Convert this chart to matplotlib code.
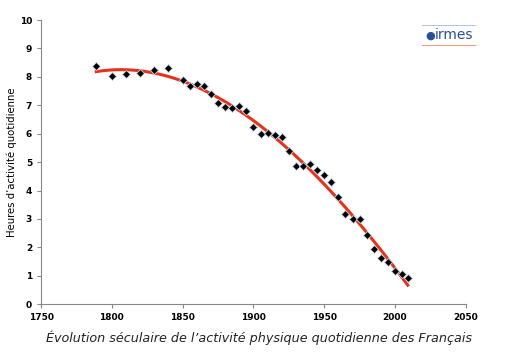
import numpy as np
import matplotlib
matplotlib.use("Agg")
from matplotlib import pyplot as plt

# données
annees = [1789, 1800, 1810, 1820, 1830, 1840,
          1850, 1855, 1860, 1865, 1870, 1875, 1880, 1885, 1890, 1895,
          1900, 1905, 1910, 1915, 1920, 1925, 1930, 1935, 1940, 1945,
          1950, 1955, 1960, 1965, 1970, 1975, 1980, 1985, 1990, 1995,
          2000, 2005, 2009]
heures = [8.38, 8.03, 8.09, 8.13, 8.25, 8.31,
          7.88, 7.69, 7.74, 7.68, 7.38, 7.07, 6.95, 6.90, 6.98, 6.81,
          6.23, 5.98, 6.01, 5.94, 5.87, 5.40, 4.87, 4.88, 4.95, 4.72,
          4.54, 4.29, 3.76, 3.16, 2.99, 2.99, 2.45, 1.95, 1.63, 1.49,
          1.17, 1.06, 0.93]
xticks = [1750, 1800, 1850, 1900, 1950, 2000, 2050]
yticks = list(range(0, 11))

x = np.array(annees, dtype=float)
y = np.array(heures)

# courbe de tendance polynomiale (comme dans excel)
coef = np.polyfit((x - 1900) / 100, y, 3)
xt = np.linspace(x.min(), x.max(), 200)
yt = np.polyval(coef, (xt - 1900) / 100)

fig = plt.figure(figsize=(5.13, 3.52), dpi=100)
ax = fig.add_axes([0.080, 0.136, 0.828, 0.807])

ax.plot(xt, yt, color="#e5321b", lw=2.2, zorder=2)
ax.plot(x, y, "D", color="black", ms=4.2, mec="#c8d8e8", mew=0.6, zorder=3)

ax.set_xlim(1750, 2050)
ax.set_ylim(0, 10)
ax.set_xticks(xticks)
ax.set_yticks(yticks)
for lab in ax.get_xticklabels() + ax.get_yticklabels():
    lab.set_fontweight("bold")
ax.tick_params(labelsize=6.5, colors="#888888", labelcolor="black", length=3, width=0.8)
for s in ["top", "right"]:
    ax.spines[s].set_visible(False)
for s in ["left", "bottom"]:
    ax.spines[s].set_color("#888888")
    ax.spines[s].set_linewidth(0.8)

ax.set_ylabel("Heures d\u2019activité quotidienne", fontsize=7.3, labelpad=2)

fig.text(0.505, 0.040, "Évolution séculaire de l\u2019activité physique quotidienne des Français",
         ha="center", va="center", fontsize=9.2, style="italic", color="#222222")

# petit logo
fig.text(0.838, 0.900, "\u25cf", color="#2a4f9a", fontsize=8, ha="center", va="center")
fig.text(0.848, 0.900, "irmes", color="#2a4f9a", fontsize=10, ha="left", va="center")
fig.add_artist(plt.Line2D([0.822, 0.925], [0.873, 0.873], color="#e8a080", lw=0.8))
fig.add_artist(plt.Line2D([0.822, 0.925], [0.928, 0.928], color="#a0b8e0", lw=0.6))

fig.savefig("out.png", dpi=100)
